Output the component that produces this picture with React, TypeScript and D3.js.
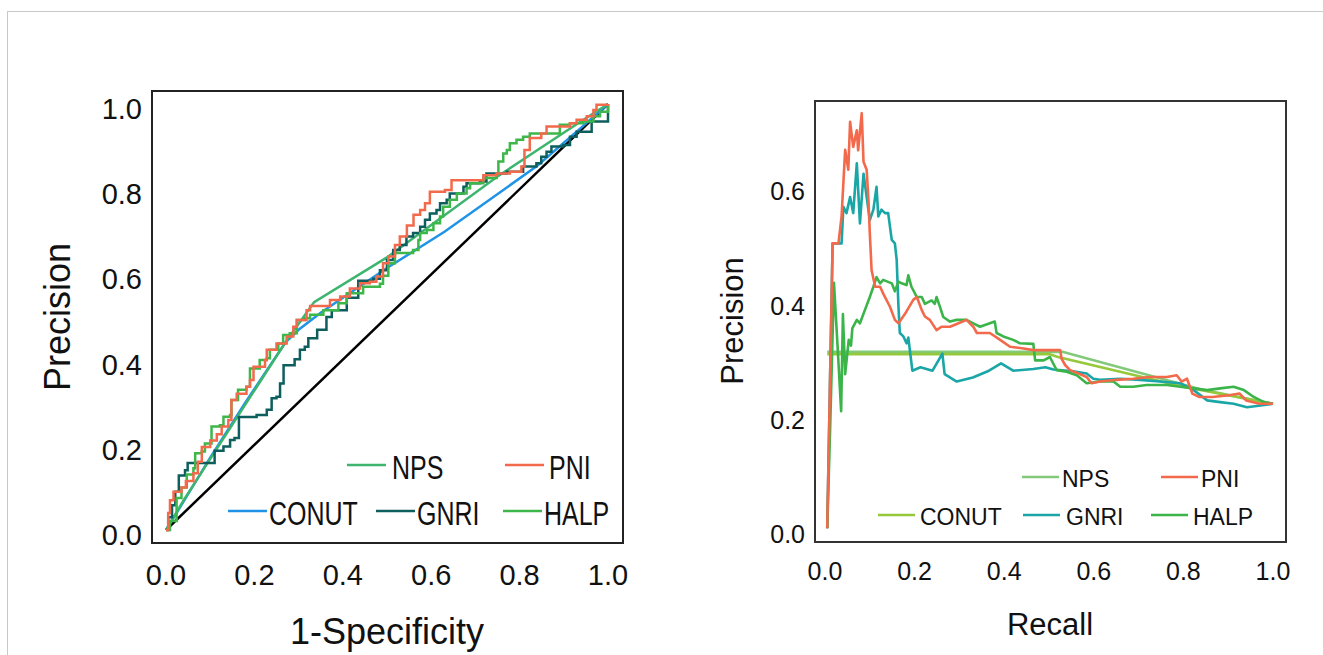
import React from "react";
import * as d3 from "d3";

type P = [number, number];

// ---------- Left panel (ROC-style): x = 1-Specificity, y = Precision ----------
const rocTicks = [0, 0.2, 0.4, 0.6, 0.8, 1.0];
const rocDiagonal: P[] = [[0, 0], [1, 1]];
const rocNPS: P[] = [[0, 0], [0.04, 0.07], [0.27, 0.44], [0.335, 0.535], [0.5, 0.64], [0.75, 0.83], [0.94, 0.96], [1, 1]];
const rocCONUT: P[] = [[0, 0], [0.03, 0.05], [0.1, 0.17], [0.18, 0.3], [0.27, 0.44], [0.3, 0.47], [0.35, 0.51], [0.5, 0.615], [0.63, 0.7], [0.84, 0.855], [0.94, 0.945], [1, 1]];
const rocPNI: P[] = [[0, 0], [0.005, 0.04], [0.009, 0.07], [0.017, 0.09], [0.035, 0.1], [0.045, 0.115], [0.062, 0.133], [0.072, 0.16], [0.081, 0.195], [0.1, 0.21], [0.115, 0.225], [0.126, 0.243], [0.141, 0.258], [0.148, 0.305], [0.16, 0.32], [0.182, 0.336], [0.19, 0.352], [0.198, 0.383], [0.224, 0.399], [0.228, 0.423], [0.25, 0.438], [0.273, 0.454], [0.288, 0.477], [0.296, 0.493], [0.318, 0.516], [0.326, 0.526], [0.364, 0.526], [0.371, 0.54], [0.394, 0.548], [0.416, 0.567], [0.439, 0.579], [0.461, 0.583], [0.476, 0.595], [0.491, 0.626], [0.503, 0.642], [0.518, 0.669], [0.529, 0.689], [0.545, 0.715], [0.56, 0.74], [0.575, 0.751], [0.586, 0.767], [0.597, 0.794], [0.631, 0.798], [0.646, 0.821], [0.71, 0.821], [0.718, 0.833], [0.748, 0.837], [0.778, 0.841], [0.804, 0.853], [0.811, 0.892], [0.823, 0.92], [0.849, 0.931], [0.861, 0.947], [0.914, 0.955], [0.929, 0.963], [0.952, 0.971], [0.967, 0.986], [0.974, 0.998], [1, 1]];
const rocGNRI: P[] = [[0, 0], [0.005, 0.03], [0.0136, 0.058], [0.021, 0.09], [0.029, 0.128], [0.043, 0.14], [0.049, 0.157], [0.095, 0.157], [0.11, 0.186], [0.13, 0.196], [0.145, 0.211], [0.155, 0.216], [0.165, 0.265], [0.2, 0.265], [0.205, 0.27], [0.228, 0.282], [0.239, 0.309], [0.25, 0.313], [0.258, 0.344], [0.266, 0.387], [0.291, 0.401], [0.303, 0.423], [0.314, 0.43], [0.322, 0.45], [0.342, 0.47], [0.363, 0.5], [0.375, 0.516], [0.409, 0.545], [0.435, 0.585], [0.469, 0.59], [0.484, 0.61], [0.5, 0.634], [0.514, 0.657], [0.529, 0.669], [0.544, 0.689], [0.559, 0.697], [0.575, 0.712], [0.586, 0.728], [0.597, 0.743], [0.612, 0.751], [0.62, 0.767], [0.635, 0.775], [0.642, 0.79], [0.673, 0.806], [0.68, 0.814], [0.71, 0.818], [0.725, 0.837], [0.771, 0.841], [0.808, 0.853], [0.838, 0.861], [0.849, 0.876], [0.861, 0.888], [0.872, 0.9], [0.899, 0.904], [0.914, 0.923], [0.929, 0.935], [0.959, 0.935], [0.963, 0.959], [1, 1]];
const rocHALP: P[] = [[0, 0], [0.009, 0.021], [0.024, 0.075], [0.035, 0.1], [0.047, 0.13], [0.062, 0.145], [0.066, 0.18], [0.081, 0.184], [0.088, 0.203], [0.103, 0.243], [0.122, 0.246], [0.13, 0.266], [0.145, 0.27], [0.148, 0.305], [0.163, 0.329], [0.182, 0.336], [0.19, 0.379], [0.212, 0.399], [0.228, 0.403], [0.235, 0.423], [0.254, 0.438], [0.265, 0.458], [0.28, 0.462], [0.296, 0.493], [0.314, 0.497], [0.326, 0.505], [0.356, 0.516], [0.39, 0.532], [0.409, 0.556], [0.431, 0.556], [0.446, 0.571], [0.484, 0.578], [0.491, 0.597], [0.503, 0.626], [0.518, 0.65], [0.544, 0.65], [0.559, 0.657], [0.571, 0.681], [0.575, 0.697], [0.59, 0.704], [0.605, 0.72], [0.62, 0.736], [0.627, 0.759], [0.642, 0.775], [0.658, 0.79], [0.68, 0.802], [0.688, 0.814], [0.718, 0.826], [0.748, 0.837], [0.752, 0.865], [0.763, 0.884], [0.771, 0.892], [0.778, 0.908], [0.793, 0.916], [0.808, 0.923], [0.823, 0.931], [0.891, 0.951], [0.914, 0.955], [0.944, 0.959], [0.967, 0.971], [0.982, 0.982], [1, 1]];

// ---------- Right panel (PR): x = Recall, y = Precision ----------
const prXTicks = [0, 0.2, 0.4, 0.6, 0.8, 1.0];
const prYTicks = [0, 0.2, 0.4, 0.6];
const prNPS: P[] = [[0.005, 0.319], [0.53, 0.319], [0.84, 0.253], [1.0, 0.228]];
const prCONUT: P[] = [[0.005, 0.315], [0.5, 0.315], [0.52, 0.31], [0.8, 0.258], [1.0, 0.228]];
const prPNI: P[] = [[0.005, 0.01], [0.017, 0.509], [0.03, 0.509], [0.037, 0.556], [0.045, 0.673], [0.052, 0.638], [0.056, 0.722], [0.063, 0.678], [0.071, 0.707], [0.074, 0.672], [0.082, 0.737], [0.086, 0.652], [0.093, 0.638], [0.097, 0.585], [0.1, 0.527], [0.104, 0.462], [0.112, 0.433], [0.123, 0.433], [0.13, 0.421], [0.145, 0.398], [0.156, 0.375], [0.164, 0.369], [0.179, 0.386], [0.197, 0.41], [0.205, 0.415], [0.216, 0.392], [0.223, 0.381], [0.234, 0.375], [0.249, 0.357], [0.26, 0.363], [0.279, 0.363], [0.298, 0.369], [0.316, 0.375], [0.331, 0.363], [0.339, 0.352], [0.368, 0.352], [0.391, 0.34], [0.413, 0.328], [0.443, 0.325], [0.465, 0.322], [0.502, 0.322], [0.525, 0.322], [0.528, 0.307], [0.536, 0.296], [0.547, 0.287], [0.566, 0.281], [0.584, 0.275], [0.595, 0.264], [0.614, 0.267], [0.651, 0.27], [0.688, 0.272], [0.725, 0.275], [0.763, 0.275], [0.785, 0.278], [0.796, 0.267], [0.808, 0.272], [0.82, 0.246], [0.835, 0.24], [0.865, 0.24], [0.902, 0.243], [0.925, 0.246], [0.94, 0.234], [0.97, 0.228], [1.0, 0.228]];
const prGNRI: P[] = [[0.005, 0.01], [0.017, 0.509], [0.037, 0.509], [0.041, 0.573], [0.048, 0.562], [0.056, 0.59], [0.063, 0.562], [0.071, 0.649], [0.078, 0.544], [0.086, 0.631], [0.093, 0.59], [0.1, 0.55], [0.108, 0.568], [0.115, 0.608], [0.119, 0.556], [0.126, 0.568], [0.134, 0.562], [0.141, 0.562], [0.149, 0.515], [0.156, 0.509], [0.16, 0.48], [0.164, 0.398], [0.167, 0.352], [0.175, 0.346], [0.182, 0.334], [0.186, 0.344], [0.195, 0.286], [0.213, 0.292], [0.24, 0.286], [0.262, 0.316], [0.267, 0.28], [0.294, 0.267], [0.33, 0.274], [0.366, 0.286], [0.393, 0.299], [0.42, 0.286], [0.465, 0.289], [0.492, 0.292], [0.51, 0.288], [0.554, 0.285], [0.584, 0.281], [0.599, 0.272], [0.614, 0.27], [0.659, 0.272], [0.703, 0.27], [0.748, 0.267], [0.793, 0.264], [0.823, 0.252], [0.853, 0.234], [0.882, 0.231], [0.912, 0.228], [0.942, 0.222], [0.972, 0.225], [1.0, 0.228]];
const prHALP: P[] = [[0.005, 0.01], [0.012, 0.2], [0.02, 0.44], [0.028, 0.33], [0.036, 0.215], [0.04, 0.385], [0.045, 0.28], [0.053, 0.34], [0.058, 0.33], [0.061, 0.36], [0.071, 0.375], [0.078, 0.369], [0.089, 0.392], [0.1, 0.415], [0.108, 0.433], [0.115, 0.45], [0.123, 0.439], [0.13, 0.445], [0.149, 0.439], [0.156, 0.425], [0.164, 0.442], [0.171, 0.439], [0.182, 0.436], [0.186, 0.453], [0.193, 0.433], [0.205, 0.415], [0.216, 0.415], [0.223, 0.403], [0.238, 0.409], [0.245, 0.403], [0.249, 0.415], [0.257, 0.397], [0.264, 0.38], [0.279, 0.372], [0.294, 0.375], [0.316, 0.375], [0.331, 0.369], [0.346, 0.363], [0.368, 0.369], [0.379, 0.372], [0.383, 0.352], [0.398, 0.346], [0.42, 0.34], [0.435, 0.334], [0.465, 0.333], [0.469, 0.304], [0.488, 0.304], [0.502, 0.31], [0.517, 0.287], [0.539, 0.284], [0.562, 0.278], [0.584, 0.264], [0.614, 0.267], [0.644, 0.267], [0.659, 0.258], [0.688, 0.258], [0.718, 0.261], [0.763, 0.261], [0.793, 0.258], [0.823, 0.255], [0.853, 0.252], [0.882, 0.255], [0.912, 0.258], [0.935, 0.252], [0.957, 0.24], [0.98, 0.231], [1.0, 0.228]];

const FONT = "'Liberation Sans', Arial, Helvetica, sans-serif";

export default function App() {
  // Left panel scales
  const xL = d3.scaleLinear().domain([0, 1]).range([166, 608]);
  const yL = d3.scaleLinear().domain([0, 1]).range([530, 104]);
  // Right panel scales
  const xR = d3.scaleLinear().domain([0, 1]).range([825, 1273]);
  const yR = d3.scaleLinear().domain([0, 0.6]).range([534, 191.4]);

  const fmt = d3.format(".1f");
  const stepL = d3.line<P>().x((d) => xL(d[0])).y((d) => yL(d[1])).curve(d3.curveStepAfter);
  const linL = d3.line<P>().x((d) => xL(d[0])).y((d) => yL(d[1]));
  const linR = d3.line<P>().x((d) => xR(d[0])).y((d) => yR(d[1]));

  const cL = { NPS: "#3db56e", PNI: "#f26a4b", CONUT: "#2193e6", GNRI: "#0f5e5e", HALP: "#3db64a" };
  const cR = { NPS: "#82c97a", PNI: "#f26a4b", CONUT: "#96c83c", GNRI: "#1aa6a6", HALP: "#3bb44a" };

  const leftLegend = [
    { name: "NPS", color: cL.NPS, lx: 347, tx: 392, y: 467 },
    { name: "PNI", color: cL.PNI, lx: 505, tx: 549, y: 467 },
    { name: "CONUT", color: cL.CONUT, lx: 228, tx: 269, y: 513 },
    { name: "GNRI", color: cL.GNRI, lx: 376, tx: 417, y: 513 },
    { name: "HALP", color: cL.HALP, lx: 503, tx: 544, y: 513 },
  ];
  const rightLegend = [
    { name: "NPS", color: cR.NPS, lx: 1022, tx: 1062, y: 479 },
    { name: "PNI", color: cR.PNI, lx: 1161, tx: 1201, y: 479 },
    { name: "CONUT", color: cR.CONUT, lx: 878, tx: 920, y: 517 },
    { name: "GNRI", color: cR.GNRI, lx: 1023, tx: 1066, y: 517 },
    { name: "HALP", color: cR.HALP, lx: 1151, tx: 1193, y: 517 },
  ];

  return (
    <svg width={1323} height={655} style={{ position: "absolute", left: 0, top: 0, background: "#fff" }} fontFamily={FONT}>
      <rect x={7.5} y={11.5} width={1400} height={700} fill="none" stroke="#c9c9c9" strokeWidth={1} />

      {/* ---------- Left panel ---------- */}
      <rect x={152} y={91} width={471} height={452} fill="#fff" stroke="#222" strokeWidth={2} />
      <path d={linL(rocDiagonal) || ""} fill="none" stroke="#000" strokeWidth={2.5} />
      <path d={linL(rocCONUT) || ""} fill="none" stroke={cL.CONUT} strokeWidth={2.5} />
      <path d={linL(rocNPS) || ""} fill="none" stroke={cL.NPS} strokeWidth={2.5} />
      <path d={stepL(rocGNRI) || ""} fill="none" stroke={cL.GNRI} strokeWidth={2.5} />
      <path d={stepL(rocHALP) || ""} fill="none" stroke={cL.HALP} strokeWidth={2.5} />
      <path d={stepL(rocPNI) || ""} fill="none" stroke={cL.PNI} strokeWidth={2.5} />

      {rocTicks.map((t) => (
        <text key={"ly" + t} x={142} y={yL(t) + 15} textAnchor="end" fontSize={29} fill="#111">{fmt(t)}</text>
      ))}
      {rocTicks.map((t) => (
        <text key={"lx" + t} x={xL(t)} y={585} textAnchor="middle" fontSize={29} fill="#111">{fmt(t)}</text>
      ))}
      <text x={387} y={644} textAnchor="middle" fontSize={36} fill="#111">1-Specificity</text>
      <text transform="translate(70,317) rotate(-90)" textAnchor="middle" fontSize={36} fill="#111">Precision</text>

      {leftLegend.map((d) => (
        <g key={"ll" + d.name}>
          <line x1={d.lx} x2={d.lx + 39} y1={d.y - 2} y2={d.y - 2} stroke={d.color} strokeWidth={2.5} />
          <text transform={`translate(${d.tx},${d.y}) scale(1,1.35)`} dy="0.36em" fontSize={25} fill="#111">{d.name}</text>
        </g>
      ))}

      {/* ---------- Right panel ---------- */}
      <rect x={815} y={101} width={471} height={441} fill="#fff" stroke="#333" strokeWidth={2} />
      <path d={linR(prNPS) || ""} fill="none" stroke={cR.NPS} strokeWidth={2.6} />
      <path d={linR(prCONUT) || ""} fill="none" stroke={cR.CONUT} strokeWidth={2.6} />
      <path d={linR(prGNRI) || ""} fill="none" stroke={cR.GNRI} strokeWidth={2.6} strokeLinejoin="round" />
      <path d={linR(prHALP) || ""} fill="none" stroke={cR.HALP} strokeWidth={2.6} strokeLinejoin="round" />
      <path d={linR(prPNI) || ""} fill="none" stroke={cR.PNI} strokeWidth={2.6} strokeLinejoin="round" />

      {prYTicks.map((t) => (
        <text key={"ry" + t} x={805} y={yR(t) + 9} textAnchor="end" fontSize={25} fill="#111">{fmt(t)}</text>
      ))}
      {prXTicks.map((t) => (
        <text key={"rx" + t} x={xR(t)} y={580} textAnchor="middle" fontSize={25} fill="#111">{fmt(t)}</text>
      ))}
      <text x={1050} y={635} textAnchor="middle" fontSize={31} fill="#111">Recall</text>
      <text transform="translate(743,321) rotate(-90)" textAnchor="middle" fontSize={31} fill="#111">Precision</text>

      {rightLegend.map((d) => (
        <g key={"rl" + d.name}>
          <line x1={d.lx} x2={d.lx + 37} y1={d.y - 2} y2={d.y - 2} stroke={d.color} strokeWidth={2.4} />
          <text x={d.tx} y={d.y} dy="0.36em" fontSize={23} fill="#111">{d.name}</text>
        </g>
      ))}
    </svg>
  );
}
